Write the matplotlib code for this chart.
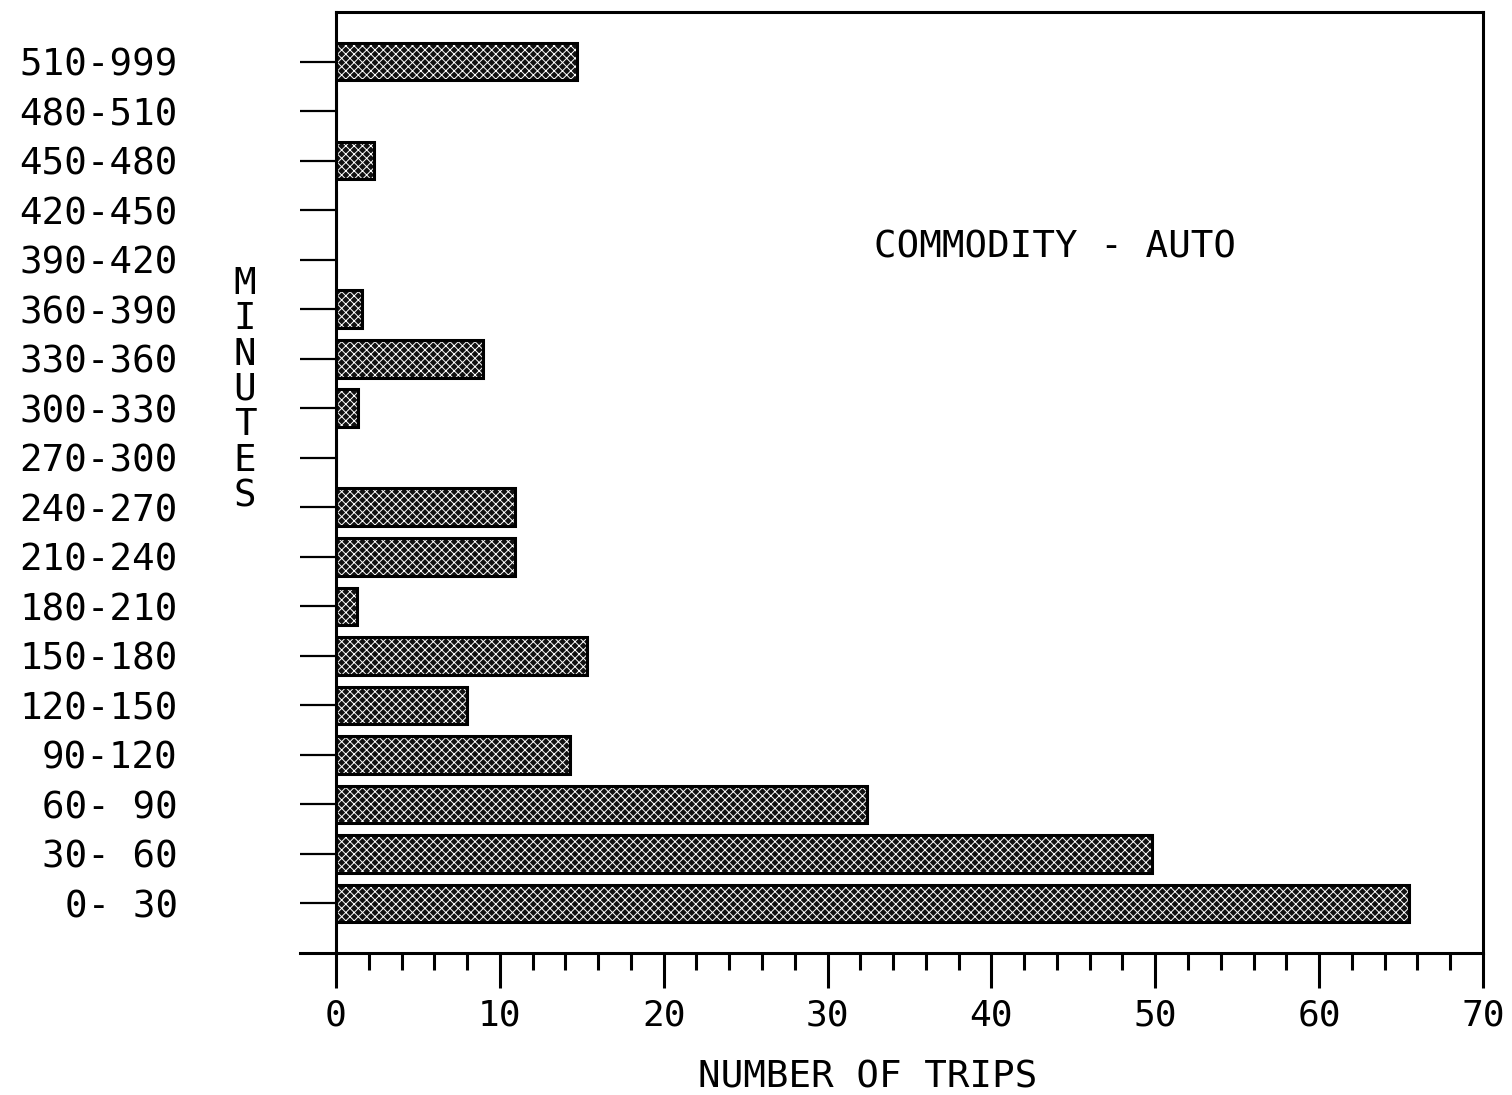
import numpy as np
import matplotlib
matplotlib.use("Agg")
import matplotlib.pyplot as plt

# travel time classes (minutes), bottom to top
classes = ['0- 30', '30- 60', '60- 90', '90-120', '120-150', '150-180',
           '180-210', '210-240', '240-270', '270-300', '300-330', '330-360',
           '360-390', '390-420', '420-450', '450-480', '480-510', '510-999']
# number of trips
trips = [65.5, 49.8, 32.4, 14.3, 8.0, 15.3,
         1.3, 10.9, 10.9, 0, 1.35, 9.0,
         1.6, 0, 0, 2.3, 0, 14.7]

x_major = [0, 10, 20, 30, 40, 50, 60, 70]

plt.rcParams['font.family'] = ['DejaVu Sans Mono']
plt.rcParams['hatch.linewidth'] = 0.7

fig = plt.figure(figsize=(15.12, 10.95), dpi=100)
ax = fig.add_axes([0.2222, 0.1297, 0.7586, 0.8593])

y = np.arange(len(classes))
ax.barh(y, trips, height=0.76, color='#111111', edgecolor='white',
        hatch='xxxx', linewidth=0)
ax.barh(y, trips, height=0.76, fill=False, edgecolor='black', linewidth=2.2)

ax.set_xlim(0, 70)
ax.set_ylim(-1, 18)

ax.set_yticks(y)
ax.set_yticklabels(classes, fontsize=27)
ax.set_xticks(x_major)
ax.set_xticklabels([str(v) for v in x_major], fontsize=26)
ax.set_xticks(np.arange(0, 71, 2), minor=True)

ax.tick_params(axis='y', direction='out', length=26, width=1.6, pad=88)
ax.tick_params(axis='x', which='major', direction='out', length=25, width=2.2, pad=8)
ax.tick_params(axis='x', which='minor', direction='out', length=12, width=2.2)

for s in ax.spines.values():
    s.set_linewidth(2.2)

# bottom axis line runs a bit left of zero
ax.plot([-0.031, 0], [0, 0], transform=ax.transAxes, color='black',
        linewidth=2.2, clip_on=False)

ax.text(0.627, 0.75, 'COMMODITY - AUTO', transform=ax.transAxes,
        fontsize=27, ha='center', va='center')

fig.text(868 / 1512, 1 - 1077 / 1095, 'NUMBER OF TRIPS', fontsize=27,
         ha='center', va='center')
fig.text(245 / 1512, 1 - 390 / 1095, '\n'.join('MINUTES'), fontsize=27,
         ha='center', va='center', linespacing=0.98)

fig.savefig('out.png', dpi=100, facecolor='white')
